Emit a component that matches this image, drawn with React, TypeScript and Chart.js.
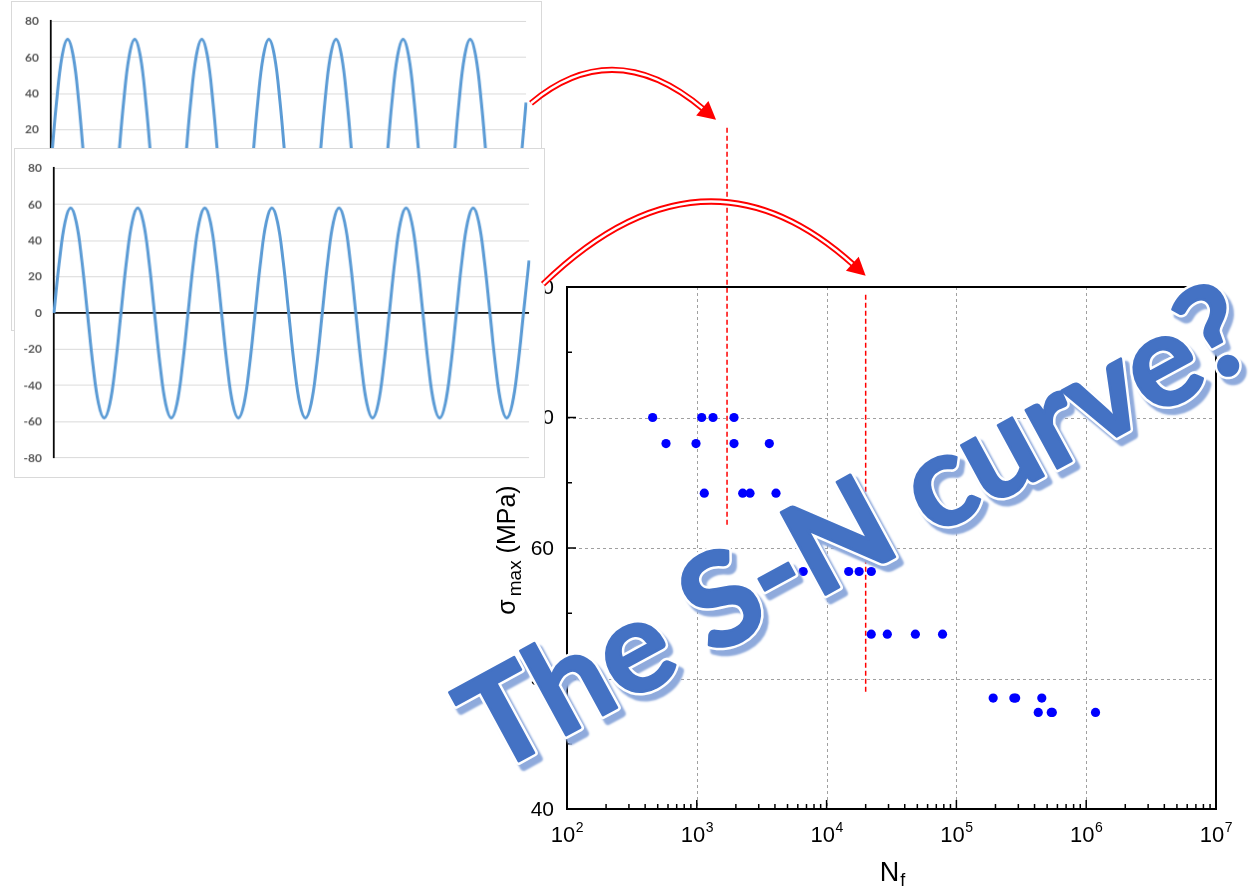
import React, { useEffect, useRef } from 'react';
import { Chart, registerables } from 'chart.js';

Chart.register(...registerables);

// ---------------- Inset waveforms ----------------
const waveUpper: number[] = [
  0, 35, 60.6, 70, 60.6, 35, 0, -35, -60.6, -70, -60.6, -35,
  0, 35, 60.6, 70, 60.6, 35, 0, -35, -60.6, -70, -60.6, -35,
  0, 35, 60.6, 70, 60.6, 35, 0, -35, -60.6, -70, -60.6, -35,
  0, 35, 60.6, 70, 60.6, 35, 0, -35, -60.6, -70, -60.6, -35,
  0, 35, 60.6, 70, 60.6, 35, 0, -35, -60.6, -70, -60.6, -35,
  0, 35, 60.6, 70, 60.6, 35, 0, -35, -60.6, -70, -60.6, -35,
  0, 35, 60.6, 70, 60.6, 35, 0, -35, -60.6, -70, -60.6, -35,
  0, 35,
];
const waveLower: number[] = [
  0, 29, 50.2, 58, 50.2, 29, 0, -29, -50.2, -58, -50.2, -29,
  0, 29, 50.2, 58, 50.2, 29, 0, -29, -50.2, -58, -50.2, -29,
  0, 29, 50.2, 58, 50.2, 29, 0, -29, -50.2, -58, -50.2, -29,
  0, 29, 50.2, 58, 50.2, 29, 0, -29, -50.2, -58, -50.2, -29,
  0, 29, 50.2, 58, 50.2, 29, 0, -29, -50.2, -58, -50.2, -29,
  0, 29, 50.2, 58, 50.2, 29, 0, -29, -50.2, -58, -50.2, -29,
  0, 29, 50.2, 58, 50.2, 29, 0, -29, -50.2, -58, -50.2, -29,
  0, 29,
];
const waveLabels: string[] = waveLower.map((_, i) => String(i));
const waveYMin = -80;
const waveYMax = 80;
const waveYStep = 20;

// ---------------- S-N data ----------------
const stressLevels: number[] = [70, 68, 64.2, 58.2, 53.4, 48.5, 47.4];
const cyclesLevel1: number[] = [457, 1091, 1333, 1935];
const cyclesLevel2: number[] = [579, 986, 1935, 3620];
const cyclesLevel3: number[] = [1142, 2258, 2570, 4075];
const cyclesLevel4: number[] = [6600, 14800, 17800, 22100];
const cyclesLevel5: number[] = [22070, 29360, 48300, 78200];
const cyclesLevel6: number[] = [192000, 277000, 286000, 455000];
const cyclesLevel7: number[] = [427000, 538000, 548000, 1180000];
const cyclesByLevel: number[][] = [
  cyclesLevel1, cyclesLevel2, cyclesLevel3, cyclesLevel4,
  cyclesLevel5, cyclesLevel6, cyclesLevel7,
];

// red dashed reference lines
const refLineCycles: number[] = [1710, 20000];
const refLineTop: number[] = [92.2, 79.4];
const refLineBottom: number[] = [61.7, 48.9];

// axes
const xMin = 100;
const xMax = 1e7;
const xDecades: number[] = [100, 1000, 1e4, 1e5, 1e6, 1e7];
const xExponents: string[] = ['2', '3', '4', '5', '6', '7'];
const yMin = 40;
const yMax = 80;
const yMajorTicks: number[] = [40, 50, 60, 70, 80];
const yMinorTicks: number[] = [45, 55, 65, 75];

const bigTitle = 'The S-N curve?';

// ---------------- layout constants ----------------
const W = 1250;
const H = 888;
const INSET_W = 531;
const INSET_H = 330;
const INSET_UPPER = { left: 12, top: 2 };
const INSET_LOWER = { left: 15, top: 149 };
const SANS = '"Liberation Sans", Arial, sans-serif';

const snPlugin = {
  id: 'snDecor',
  beforeDatasetsDraw(chart: any) {
    const { ctx, chartArea: a, scales } = chart;
    const x = scales.x;
    const y = scales.y;
    ctx.save();
    ctx.strokeStyle = '#a0a0a0';
    ctx.lineWidth = 1;
    ctx.setLineDash([3, 3]);
    for (const v of xDecades) {
      const px = Math.round(x.getPixelForValue(v)) + 0.5;
      if (px <= a.left + 2 || px >= a.right - 2) continue;
      ctx.beginPath();
      ctx.moveTo(px, a.top);
      ctx.lineTo(px, a.bottom);
      ctx.stroke();
    }
    for (const v of yMajorTicks) {
      const py = Math.round(y.getPixelForValue(v)) + 0.5;
      if (py <= a.top + 2 || py >= a.bottom - 2) continue;
      ctx.beginPath();
      ctx.moveTo(a.left, py);
      ctx.lineTo(a.right, py);
      ctx.stroke();
    }
    ctx.restore();
  },
  afterDatasetsDraw(chart: any) {
    const { ctx, chartArea: a, scales } = chart;
    const x = scales.x;
    const y = scales.y;
    ctx.save();
    ctx.setLineDash([]);
    ctx.strokeStyle = '#000';
    ctx.lineWidth = 2;
    ctx.strokeRect(a.left, a.top, a.right - a.left, a.bottom - a.top);

    // inward ticks
    ctx.lineWidth = 1.5;
    ctx.beginPath();
    for (const v of xDecades) {
      const px = x.getPixelForValue(v);
      ctx.moveTo(px, a.bottom);
      ctx.lineTo(px, a.bottom - 9);
      if (v < xMax) {
        for (let m = 2; m <= 9; m++) {
          const mx = x.getPixelForValue(v * m);
          ctx.moveTo(mx, a.bottom);
          ctx.lineTo(mx, a.bottom - 5);
        }
      }
    }
    for (const v of yMajorTicks) {
      const py = y.getPixelForValue(v);
      ctx.moveTo(a.left, py);
      ctx.lineTo(a.left + 9, py);
    }
    for (const v of yMinorTicks) {
      const py = y.getPixelForValue(v);
      ctx.moveTo(a.left, py);
      ctx.lineTo(a.left + 5, py);
    }
    ctx.stroke();

    // x tick labels 10^n
    ctx.fillStyle = '#000';
    ctx.textBaseline = 'alphabetic';
    ctx.textAlign = 'left';
    xDecades.forEach((v, i) => {
      const px = x.getPixelForValue(v);
      ctx.font = `22px ${SANS}`;
      const w1 = ctx.measureText('10').width;
      ctx.font = `14px ${SANS}`;
      const w2 = ctx.measureText(xExponents[i]).width;
      const start = px - (w1 + w2) / 2;
      ctx.font = `22px ${SANS}`;
      ctx.fillText('10', start, a.bottom + 33);
      ctx.font = `14px ${SANS}`;
      ctx.fillText(xExponents[i], start + w1 + 0.5, a.bottom + 23);
    });

    // y tick labels
    ctx.font = `21px ${SANS}`;
    ctx.textAlign = 'right';
    ctx.textBaseline = 'middle';
    for (const v of yMajorTicks) {
      ctx.fillText(String(v), a.left - 13, y.getPixelForValue(v) + 1);
    }

    // x title N_f
    ctx.textAlign = 'left';
    ctx.textBaseline = 'alphabetic';
    ctx.font = `27px ${SANS}`;
    const wN = ctx.measureText('N').width;
    ctx.font = `18px ${SANS}`;
    const wf = ctx.measureText('f').width;
    const cx = (a.left + a.right) / 2 + 1;
    const sx = cx - (wN + wf + 1) / 2;
    ctx.font = `27px ${SANS}`;
    ctx.fillText('N', sx, a.bottom + 72);
    ctx.font = `18px ${SANS}`;
    ctx.fillText('f', sx + wN + 1, a.bottom + 77);

    // y title sigma_max (MPa)
    ctx.save();
    ctx.translate(a.left - 52, (a.top + a.bottom) / 2 + 2);
    ctx.rotate(-Math.PI / 2);
    ctx.font = `25px ${SANS}`;
    const wS = ctx.measureText('σ').width;
    const wP = ctx.measureText(' (MPa)').width;
    ctx.font = `19px ${SANS}`;
    const wM = ctx.measureText('max').width;
    const total = wS + 3 + wM + wP;
    let tx = -total / 2;
    ctx.font = `25px ${SANS}`;
    ctx.fillText('σ', tx, 0);
    tx += wS + 3;
    ctx.font = `19px ${SANS}`;
    ctx.fillText('max', tx, 6);
    tx += wM;
    ctx.font = `25px ${SANS}`;
    ctx.fillText(' (MPa)', tx, 0);
    ctx.restore();

    ctx.restore();
  },
};

function mainConfig(): any {
  const snPoints = cyclesByLevel.flatMap((arr, i) =>
    arr.map((n) => ({ x: n, y: stressLevels[i] }))
  );
  const refSets = refLineCycles.map((c, i) => ({
    type: 'line',
    data: [
      { x: c, y: refLineTop[i] },
      { x: c, y: refLineBottom[i] },
    ],
    showLine: true,
    borderColor: '#ff0000',
    borderWidth: 1.5,
    borderDash: [5, 3],
    pointRadius: 0,
    fill: false,
    clip: false,
  }));
  return {
    type: 'scatter',
    data: {
      datasets: [
        {
          type: 'scatter',
          data: snPoints,
          backgroundColor: '#0000ff',
          borderWidth: 0,
          pointRadius: 4.6,
        },
        ...refSets,
      ],
    },
    options: {
      animation: false,
      responsive: false,
      events: [],
      layout: { padding: { left: 567, right: 34, top: 287, bottom: 79 } },
      plugins: { legend: { display: false }, tooltip: { enabled: false } },
      scales: {
        x: { type: 'logarithmic', min: xMin, max: xMax, display: false },
        y: { type: 'linear', min: yMin, max: yMax, display: false },
      },
    },
    plugins: [snPlugin],
  };
}

function insetConfig(values: number[]): any {
  return {
    type: 'line',
    data: {
      labels: waveLabels,
      datasets: [
        {
          data: values,
          borderColor: '#5B9BD5',
          borderWidth: 3,
          pointRadius: 0,
          tension: 0.4,
          fill: false,
        },
      ],
    },
    options: {
      animation: false,
      responsive: false,
      events: [],
      layout: { padding: { left: 1, right: 15, top: 15, bottom: 16 } },
      plugins: { legend: { display: false }, tooltip: { enabled: false } },
      scales: {
        x: { display: false },
        y: {
          min: waveYMin,
          max: waveYMax,
          ticks: {
            stepSize: waveYStep,
            padding: 12,
            color: '#595959',
            font: { family: 'Lato', size: 12, weight: 'bold' },
          },
          grid: {
            color: (c: any) => (c.tick && c.tick.value === 0 ? '#000000' : '#d9d9d9'),
            lineWidth: (c: any) => (c.tick && c.tick.value === 0 ? 1.75 : 1),
            drawTicks: false,
          },
          border: { display: true, color: '#000000', width: 1.75 },
          afterFit: (s: any) => {
            s.width = 38;
          },
        },
      },
    },
  };
}

type Pt = { x: number; y: number };

function drawArrow(ctx: CanvasRenderingContext2D, S: Pt, T: Pt, bulge: Pt) {
  const C = { x: (S.x + T.x) / 2 + bulge.x, y: (S.y + T.y) / 2 + bulge.y };
  const dx = T.x - C.x;
  const dy = T.y - C.y;
  const len = Math.hypot(dx, dy);
  const u = { x: dx / len, y: dy / len };
  const headLen = 18;
  const headHalf = 9.5;
  const E = { x: T.x - u.x * headLen, y: T.y - u.y * headLen };
  ctx.save();
  ctx.lineCap = 'butt';
  ctx.beginPath();
  ctx.moveTo(S.x, S.y);
  ctx.quadraticCurveTo(C.x, C.y, E.x + u.x * 2, E.y + u.y * 2);
  ctx.strokeStyle = '#ff0000';
  ctx.lineWidth = 6;
  ctx.stroke();
  ctx.strokeStyle = '#ffffff';
  ctx.lineWidth = 2.4;
  ctx.stroke();
  const p = { x: -u.y, y: u.x };
  ctx.beginPath();
  ctx.moveTo(T.x, T.y);
  ctx.lineTo(E.x + p.x * headHalf, E.y + p.y * headHalf);
  ctx.lineTo(E.x - p.x * headHalf, E.y - p.y * headHalf);
  ctx.closePath();
  ctx.fillStyle = '#ff0000';
  ctx.fill();
  ctx.restore();
}

function drawOverlay(canvas: HTMLCanvasElement, main: any, upper: any, lower: any) {
  const ctx = canvas.getContext('2d');
  if (!ctx) return;
  ctx.clearRect(0, 0, canvas.width, canvas.height);

  const mx = main.scales.x;
  const my = main.scales.y;
  const lastU = upper.getDatasetMeta(0).data[waveUpper.length - 1];
  const lastL = lower.getDatasetMeta(0).data[waveLower.length - 1];

  const start1 = { x: INSET_UPPER.left + lastU.x + 3, y: INSET_UPPER.top + lastU.y };
  const tip1 = {
    x: mx.getPixelForValue(refLineCycles[0]) - 11,
    y: my.getPixelForValue(refLineTop[0]) - 8,
  };
  const start2 = { x: INSET_LOWER.left + lastL.x + 12, y: INSET_LOWER.top + lastL.y + 23 };
  const tip2 = {
    x: mx.getPixelForValue(refLineCycles[1]),
    y: my.getPixelForValue(refLineTop[1]) - 19,
  };
  drawArrow(ctx, start1, tip1, { x: -9.5, y: -78 });
  drawArrow(ctx, start2, tip2, { x: -1, y: -151 });

  // Big rotated title
  const angle = (-28.5 * Math.PI) / 180;
  const targetInk = 870;
  const thick = 2.5;
  ctx.save();
  ctx.font = 'bold 100px Lato';
  const m0 = ctx.measureText(bigTitle);
  const ink0 = m0.actualBoundingBoxLeft + m0.actualBoundingBoxRight;
  const fs = (100 * targetInk) / ink0;
  ctx.font = `bold ${fs}px Lato`;
  const m = ctx.measureText(bigTitle);
  const capH = ctx.measureText('T').actualBoundingBoxAscent;
  ctx.translate(446, 691);
  ctx.rotate(angle);
  const ox = m.actualBoundingBoxLeft + thick / 2;
  const oy = capH + thick / 2;
  ctx.lineJoin = 'round';
  ctx.shadowColor = '#8faadc';
  ctx.shadowOffsetX = 5;
  ctx.shadowOffsetY = 6;
  ctx.shadowBlur = 2;
  ctx.fillStyle = '#ffffff';
  ctx.strokeStyle = '#ffffff';
  ctx.lineWidth = thick + 5;
  ctx.fillText(bigTitle, ox, oy);
  ctx.strokeText(bigTitle, ox, oy);
  ctx.shadowColor = 'rgba(0,0,0,0)';
  ctx.shadowOffsetX = 0;
  ctx.shadowOffsetY = 0;
  ctx.shadowBlur = 0;
  ctx.fillStyle = '#4472C4';
  ctx.strokeStyle = '#4472C4';
  ctx.lineWidth = thick;
  ctx.fillText(bigTitle, ox, oy);
  ctx.strokeText(bigTitle, ox, oy);
  ctx.restore();
}

export default function App() {
  const mainRef = useRef<HTMLCanvasElement>(null);
  const upperRef = useRef<HTMLCanvasElement>(null);
  const lowerRef = useRef<HTMLCanvasElement>(null);
  const overlayRef = useRef<HTMLCanvasElement>(null);

  useEffect(() => {
    const main = new Chart(mainRef.current as HTMLCanvasElement, mainConfig());
    const upper = new Chart(upperRef.current as HTMLCanvasElement, insetConfig(waveUpper));
    const lower = new Chart(lowerRef.current as HTMLCanvasElement, insetConfig(waveLower));
    drawOverlay(overlayRef.current as HTMLCanvasElement, main, upper, lower);
    return () => {
      main.destroy();
      upper.destroy();
      lower.destroy();
    };
  }, []);

  const insetStyle = (pos: { left: number; top: number }, z: number): React.CSSProperties => ({
    position: 'absolute',
    left: pos.left - 1,
    top: pos.top - 1,
    width: INSET_W,
    height: INSET_H,
    border: '1px solid #d9d9d9',
    background: '#ffffff',
    zIndex: z,
  });

  return (
    <div style={{ position: 'absolute', left: 0, top: 0, width: W, height: H, background: '#ffffff', overflow: 'hidden' }}>
      <canvas
        ref={mainRef}
        width={W}
        height={H}
        style={{ position: 'absolute', left: 0, top: 0, width: W, height: H, zIndex: 0 }}
      />
      <canvas ref={upperRef} width={INSET_W} height={INSET_H} style={insetStyle(INSET_UPPER, 1)} />
      <canvas ref={lowerRef} width={INSET_W} height={INSET_H} style={insetStyle(INSET_LOWER, 2)} />
      <canvas
        ref={overlayRef}
        width={W}
        height={H}
        style={{ position: 'absolute', left: 0, top: 0, width: W, height: H, zIndex: 3, pointerEvents: 'none' }}
      />
    </div>
  );
}
